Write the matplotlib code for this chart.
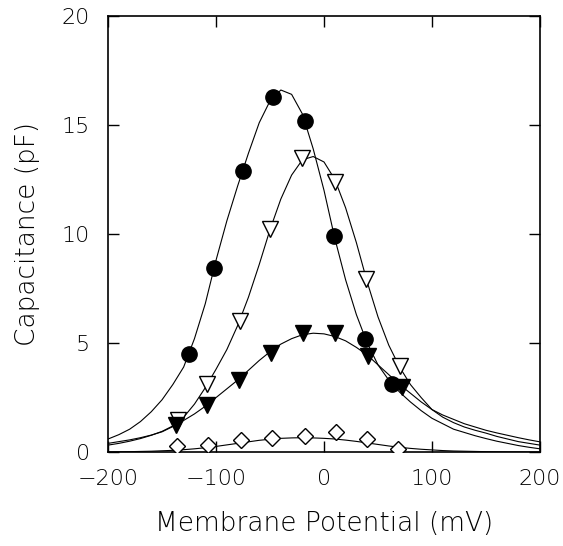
import matplotlib
matplotlib.use("Agg")
import matplotlib.pyplot as plt

# ── Data ───────────────────────────────────────────────────────────────────

# measured points, one list per condition
circ_v = [-125, -102, -75, -47, -18, 9, 38, 63]
circ_c = [4.5, 8.45, 12.9, 16.3, 15.2, 9.9, 5.2, 3.1]

otri_v = [-135, -108, -78, -50, -20, 10, 39, 70]
otri_c = [1.45, 3.1, 6.0, 10.25, 13.5, 12.4, 7.95, 3.95]

ftri_v = [-137, -108, -79, -49, -19, 10, 41, 72]
ftri_c = [1.25, 2.15, 3.3, 4.55, 5.45, 5.45, 4.4, 3.0]

diam_v = [-136, -107, -77, -48, -18, 11, 40, 69]
diam_c = [0.28, 0.33, 0.54, 0.65, 0.72, 0.9, 0.58, 0.15]

# fitted curves, sampled every 10 mV from -200 to 200
fit_v = list(range(-200, 201, 10))
fit_circ = [0.6, 0.8, 1.05, 1.4, 1.85, 2.4, 3.1, 3.9, 5.2, 6.8,
            8.8, 10.6, 12.2, 13.7, 15.1, 16.1, 16.6, 16.4, 15.5, 13.9,
            12.0, 9.8, 7.9, 6.3, 5.0, 4.0, 3.3, 2.75, 2.3, 1.9,
            1.55, 1.3, 1.05, 0.9, 0.75, 0.62, 0.5, 0.4, 0.3, 0.22, 0.15]
fit_otri = [0.32, 0.4, 0.5, 0.62, 0.77, 0.95, 1.2, 1.6, 2.2, 2.95,
            3.8, 4.7, 5.8, 7.1, 8.6, 10.2, 11.6, 12.7, 13.4, 13.55,
            13.3, 12.5, 11.2, 9.6, 7.8, 6.2, 4.9, 3.9, 3.1, 2.5,
            1.95, 1.6, 1.35, 1.15, 1.0, 0.87, 0.72, 0.6, 0.48, 0.4, 0.32]
fit_ftri = [0.4, 0.48, 0.56, 0.66, 0.78, 0.93, 1.17, 1.45, 1.75, 2.1,
            2.5, 2.9, 3.3, 3.75, 4.2, 4.6, 4.95, 5.2, 5.38, 5.45,
            5.42, 5.3, 5.1, 4.8, 4.45, 4.0, 3.55, 3.1, 2.7, 2.3,
            1.95, 1.7, 1.5, 1.3, 1.15, 1.0, 0.88, 0.77, 0.66, 0.56, 0.47]
fit_diam = [0.01, 0.015, 0.02, 0.03, 0.04, 0.06, 0.08, 0.11, 0.15, 0.2,
            0.26, 0.33, 0.4, 0.47, 0.54, 0.59, 0.63, 0.65, 0.66, 0.65,
            0.63, 0.6, 0.55, 0.49, 0.42, 0.35, 0.28, 0.22, 0.17, 0.13,
            0.1, 0.07, 0.05, 0.04, 0.03, 0.02, 0.015, 0.01, 0.01, 0.005, 0.005]

x_ticks = [-200, -100, 0, 100, 200]
x_tick_labels = ["\u2212200", "\u2212100", "0", "100", "200"]
y_ticks = [0, 5, 10, 15, 20]

# ── Plot ───────────────────────────────────────────────────────────────────

plt.rcParams.update({
    "font.family": "DejaVu Sans",
    "font.weight": "light",
    "axes.labelweight": "light",
    "font.size": 16,
})

fig = plt.figure(figsize=(5.63, 5.46), dpi=100)
ax = fig.add_axes([0.192, 0.172, 0.767, 0.799])

for curve in (fit_circ, fit_otri, fit_ftri, fit_diam):
    ax.plot(fit_v, curve, color="black", linewidth=0.8, zorder=2)

ax.plot(circ_v, circ_c, "o", color="black", markersize=11, zorder=3)
ax.plot(otri_v, otri_c, "v", markerfacecolor="white", markeredgecolor="black",
        markeredgewidth=1.0, markersize=11, zorder=3)
ax.plot(ftri_v, ftri_c, "v", color="black", markersize=11, zorder=4)
ax.plot(diam_v, diam_c, "D", markerfacecolor="white", markeredgecolor="black",
        markeredgewidth=1.0, markersize=8.5, zorder=3)

ax.set_xlim(-200, 200)
ax.set_ylim(0, 20)
ax.set_xticks(x_ticks)
ax.set_yticks(y_ticks)
ax.set_xticklabels(x_tick_labels)
ax.tick_params(direction="in", length=8, width=1, top=True, right=True,
               labelsize=16)
ax.tick_params(axis="x", pad=12)
ax.tick_params(axis="y", pad=13)
for spine in ax.spines.values():
    spine.set_linewidth(1.2)

ax.set_xlabel("Membrane Potential (mV)", fontsize=19, labelpad=16)
ax.set_ylabel("Capacitance (pF)", fontsize=19, labelpad=16)

fig.savefig("out.png", dpi=100)
